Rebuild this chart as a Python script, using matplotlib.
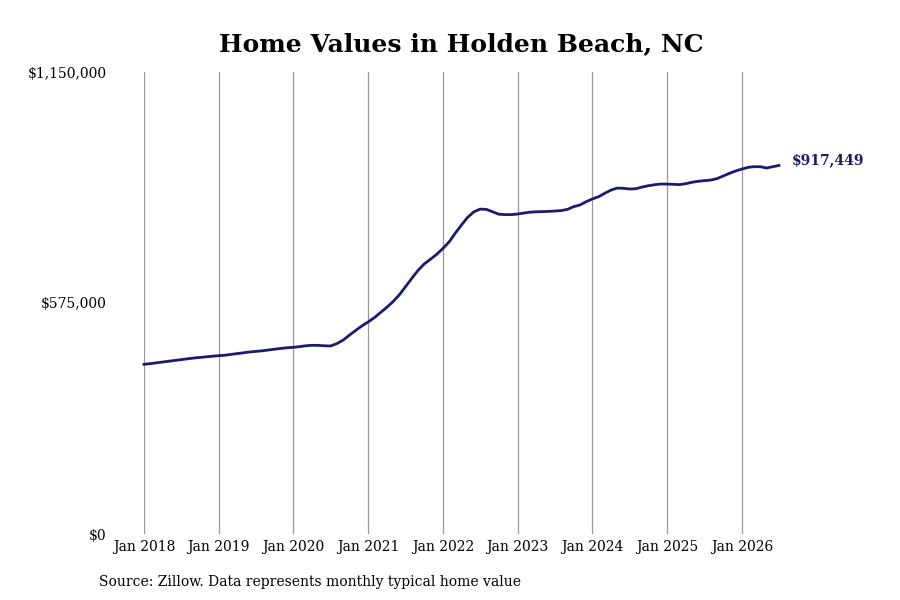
import pandas as pd
import matplotlib
matplotlib.use("Agg")
import matplotlib.pyplot as plt
import matplotlib.dates as mdates
from matplotlib.ticker import FuncFormatter

plt.rcParams['font.family'] = ['DejaVu Serif']

# monthly typical home value, Jan 2018 .. Jul 2026 (in $)
start_month = '2018-01-01'
values = [
    # 2018
    422400, 424000, 426000, 428000, 430000, 432000, 434000, 436000, 438000, 439500, 441000, 442500,
    # 2019
    443800, 445000, 447000, 449000, 451000, 453000, 454500, 456000, 458000, 460000, 462000, 463500,
    # 2020
    464700, 466500, 468500, 469700, 469500, 468500, 468000, 474000, 483000, 495000, 507000, 518000,
    # 2021
    528000, 539000, 551000, 564000, 578000, 595000, 615000, 636000, 656000, 672000, 684000, 696000,
    # 2022
    711000, 727600, 748000, 769000, 788000, 802000, 808700, 808000, 802000, 796000, 795000, 795000,
    # 2023
    796500, 799000, 801000, 802000, 802500, 803000, 804000, 805000, 808000, 814700, 819000, 827000,
    # 2024
    834000, 839600, 848000, 856000, 861000, 860500, 858700, 859500, 863700, 867000, 869500, 871200,
    # 2025
    871000, 870400, 869600, 872000, 875400, 878000, 879500, 881000, 884500, 891000, 897800, 903600,
    # 2026
    908500, 912700, 914300, 914300, 911000, 914300, 917449,
]
dates = pd.date_range(start_month, periods=len(values), freq='MS')

title = "Home Values in Holden Beach, NC"
source = "Source: Zillow. Data represents monthly typical home value"
y_ticks = [0, 575000, 1150000]
x_ticks = pd.date_range('2018-01-01', '2026-01-01', freq='YS')

line_color = '#1a1a6e'

fig = plt.figure(figsize=(9, 6), dpi=100)
ax = fig.add_axes([144 / 900, 1 - 534 / 600, (779 - 144) / 900, (534 - 72) / 600])

ax.plot(dates, values, color=line_color, lw=2.0, clip_on=False, zorder=3)

ax.set_xlim(dates[0], dates[-1])
ax.set_ylim(0, 1150000)

ax.set_yticks(y_ticks)
ax.yaxis.set_major_formatter(FuncFormatter(lambda v, p: f"${v:,.0f}"))
ax.set_xticks(x_ticks)
ax.xaxis.set_major_formatter(mdates.DateFormatter('%b %Y'))

ax.grid(axis='x', color='#999999', lw=0.9)
ax.grid(axis='y', visible=False)
for s in ax.spines.values():
    s.set_visible(False)
ax.tick_params(axis='y', length=0, pad=27, labelsize=10)
ax.tick_params(axis='x', length=0, pad=4, labelsize=10)

# end label
ax.annotate(f"${values[-1]:,}", xy=(dates[-1], values[-1]), xytext=(9, 3.5),
            textcoords='offset points', va='center', ha='left',
            fontsize=10, fontweight='bold', color=line_color)

fig.suptitle(title, x=461 / 900, y=1 - 44 / 600, va='center',
             fontsize=18, fontweight='bold')
fig.text(99 / 900, 1 - 582 / 600, source, va='center', ha='left', fontsize=10)

fig.savefig('out.png', dpi=100)
